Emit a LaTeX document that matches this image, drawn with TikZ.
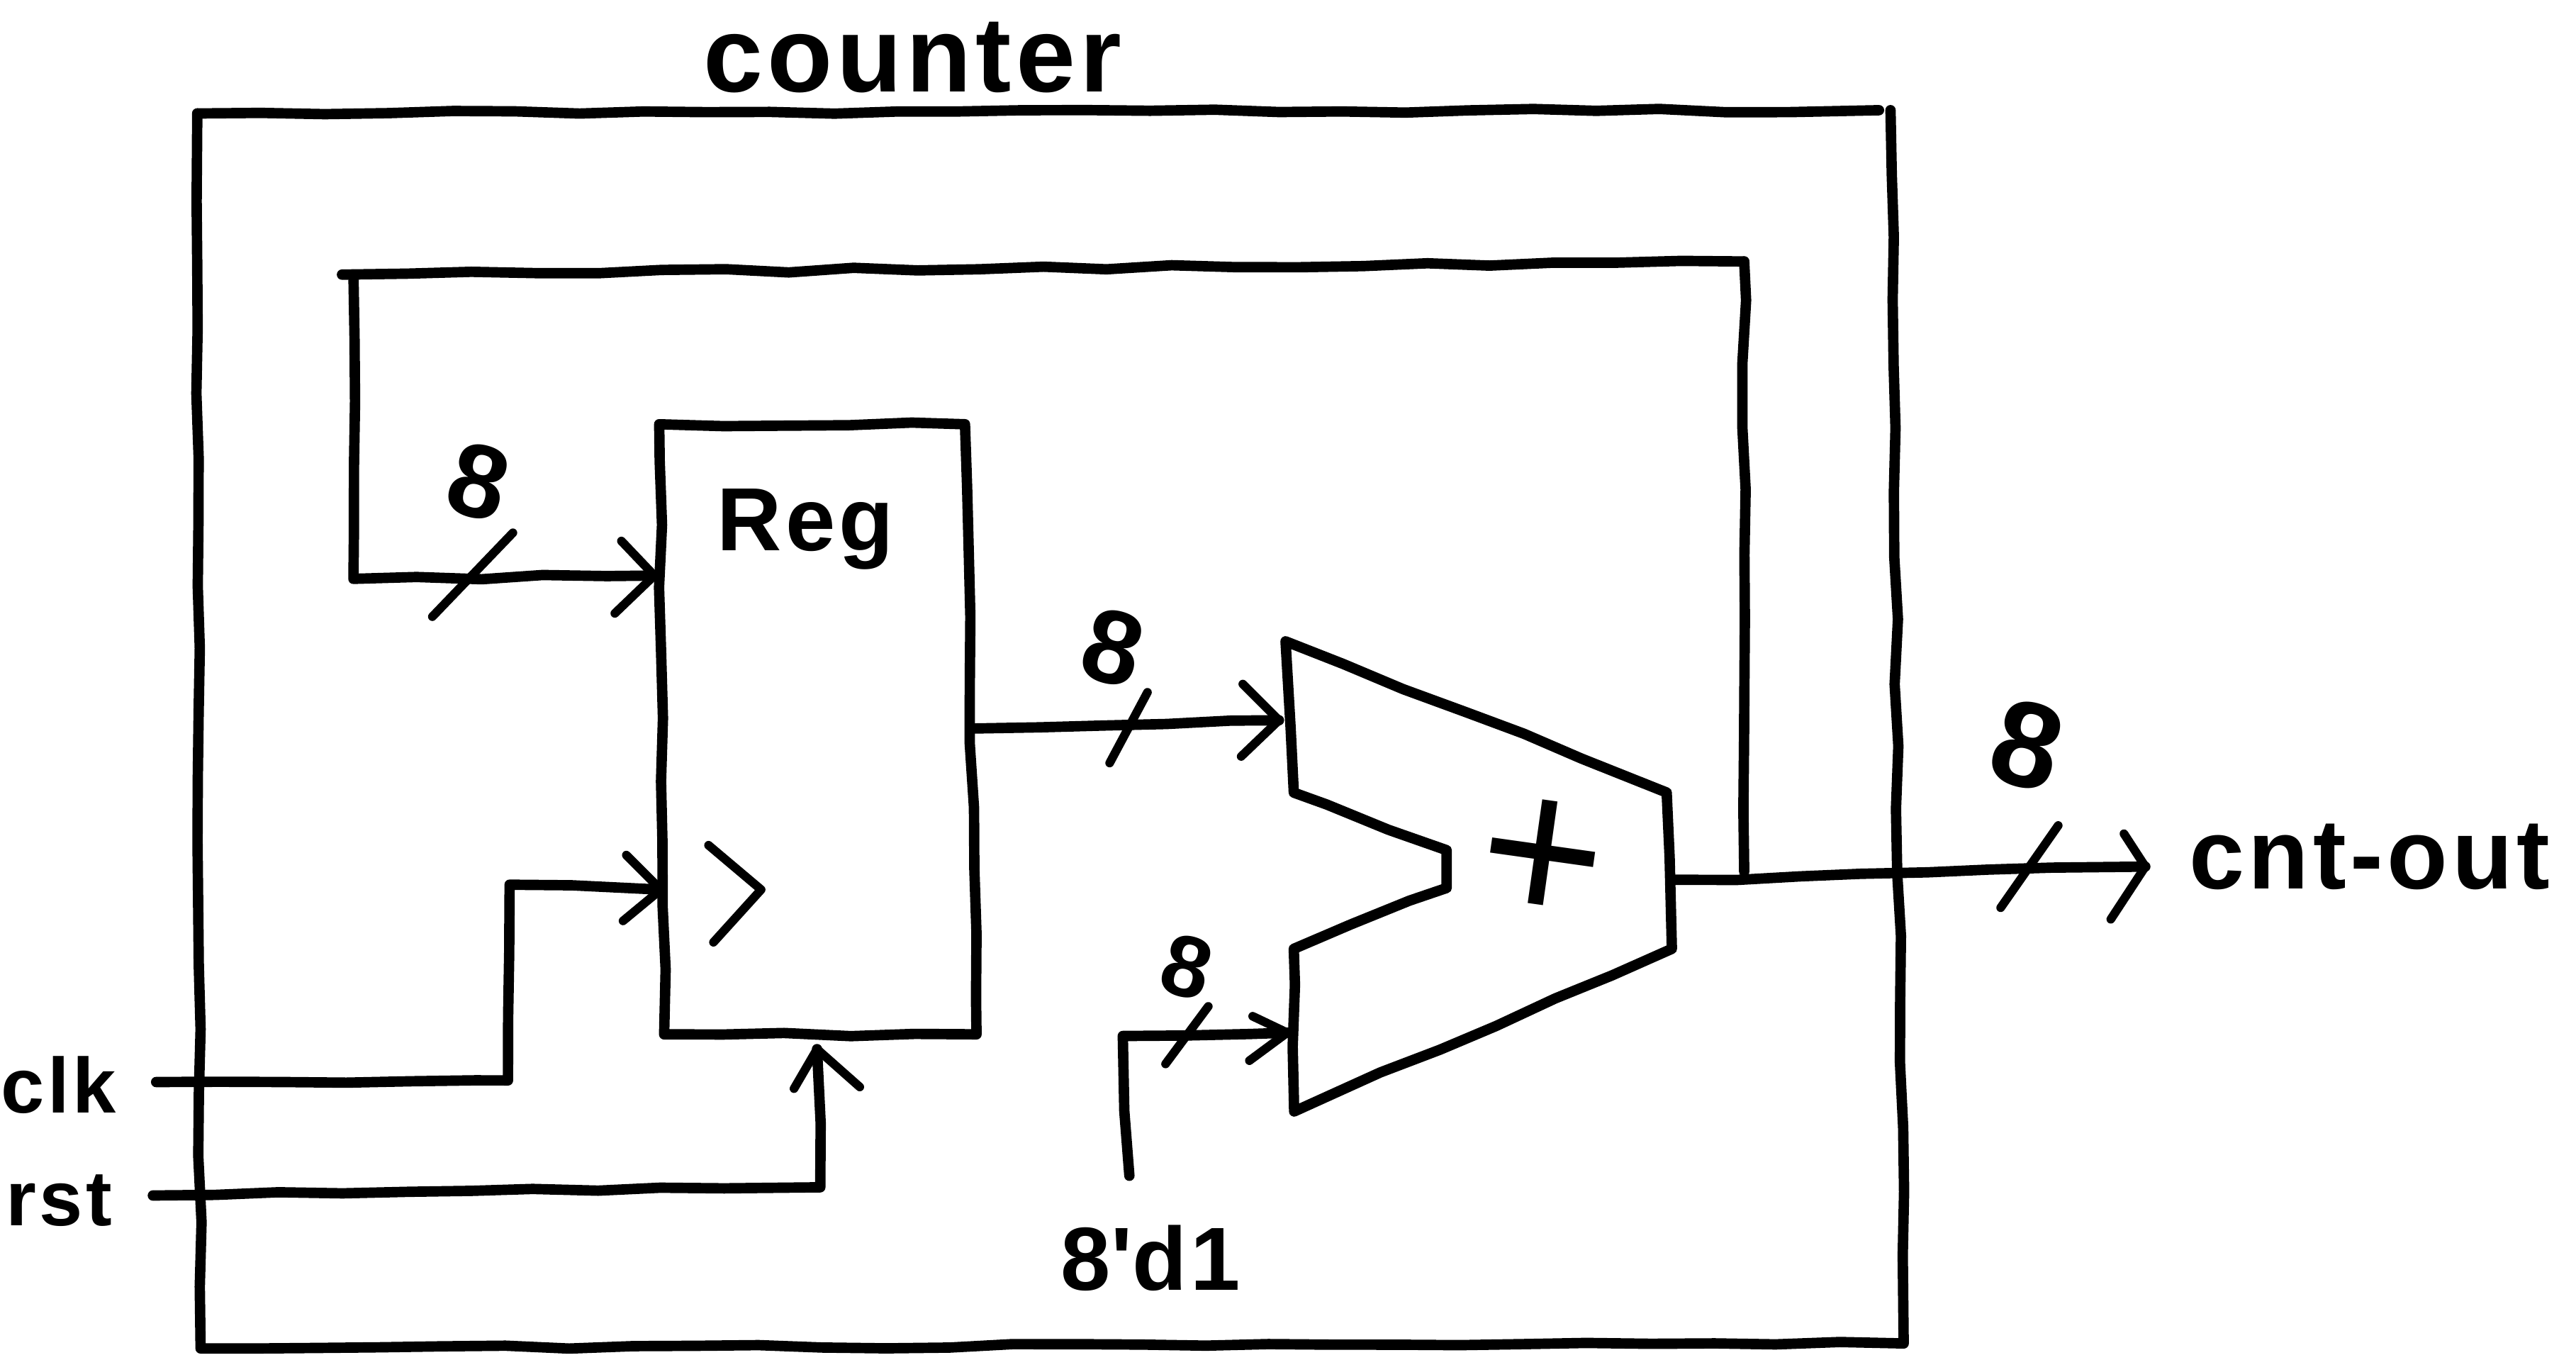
\documentclass[tikz,border=0pt]{standalone}
\usepackage{fontspec}
\setmainfont{Liberation Sans}[LetterSpace=4]
\newfontfamily\digitfont{Liberation Sans}
\usetikzlibrary{decorations.pathmorphing}
\tikzset{
  x=0.01cm,y=-0.01cm,
  wire/.style={draw=black,line width=1.8pt,line cap=round,line join=round,
    decorate,decoration={random steps,segment length=11pt,amplitude=0.35pt}},
  plain/.style={draw=black,line width=1.5pt,line cap=round,line join=round},
  hand/.style={font=\fontsize{13.5}{13.5}\selectfont\bfseries,inner sep=0pt,text=black},
  big/.style={font=\fontsize{17.2}{17.2}\selectfont\bfseries,inner sep=0pt,text=black},
  tag/.style={font=\digitfont\fontsize{18}{18}\selectfont\bfseries,inner sep=0pt,text=black,rotate=-15},
}
\begin{document}
\begin{tikzpicture}
\pgfmathsetseed{7}
\useasboundingbox (0,0) rectangle (1567,827);
% outer box
\coordinate (o1) at (120,69); \coordinate (o2) at (1143,67);
\coordinate (o3) at (1150,67); \coordinate (o4) at (1158,817);
\coordinate (o5) at (122,820);
\draw[wire] (o1) -- (o2);
\draw[wire] (o3) -- (o4) -- (o5) -- (o1);
% register
\node[hand,font=\fontsize{15.5}{15.5}\selectfont\bfseries] (regtext) at (490,322) {Reg};
\coordinate (r1) at (401,258); \coordinate (r2) at (587,258);
\coordinate (r3) at (594,629); \coordinate (r4) at (404,629);
\draw[wire] (r1) -- (r2) -- (r3) -- (r4) -- cycle;
% clock mark
\coordinate (c1) at (431,514); \coordinate (c2) at (463,541); \coordinate (c3) at (434,573);
\draw[plain] (c1) -- (c2) -- (c3);
% adder
\coordinate (a1) at (782,390); \coordinate (a2) at (1014,482);
\coordinate (a3) at (1017,577); \coordinate (a4) at (787,676);
\coordinate (a5) at (787,577); \coordinate (a6) at (880,540);
\coordinate (a7) at (880,517); \coordinate (a8) at (787,482);
\draw[wire] (a1) -- (a2) -- (a3) -- (a4) -- (a5) -- (a6) -- (a7) -- (a8) -- cycle;
\node[font=\digitfont\fontsize{37}{37}\selectfont,inner sep=0pt,rotate=-8] (plus) at (938,524) {+};
% feedback
\coordinate (f1) at (1061,530); \coordinate (f2) at (1061,159);
\coordinate (f3) at (208,167); \coordinate (f4) at (215,167);
\coordinate (f5) at (215,352); \coordinate (f6) at (398,350);
\draw[wire] (f2) -- (f3);
\draw[wire] (f1) -- (f2);
\draw[wire] (f4) -- (f5) -- (f6);
\draw[plain] (378,329) -- (f6) -- (374,373);
\draw[plain] (263,375) -- (312,324);
\node[tag] (n1) at (291,293) {8};
% reg to adder
\coordinate (m1) at (593,443); \coordinate (m2) at (778,438);
\draw[wire] (m1) -- (m2);
\draw[plain] (756,416) -- (m2) -- (755,460);
\draw[plain] (675,464) -- (698,421);
\node[tag] (n2) at (677,394) {8};
% output
\coordinate (u1) at (1017,535); \coordinate (u2) at (1305,527);
\draw[wire] (u1) -- (u2);
\draw[plain] (1292,507) -- (u2) -- (1284,559);
\draw[plain] (1217,552) -- (1252,502);
\node[tag,font=\digitfont\fontsize{21}{21}\selectfont\bfseries] (n3) at (1233,453) {8};
\node[big,anchor=west] (cnt) at (1331,521) {cnt-out};
% constant
\coordinate (k1) at (687,715); \coordinate (k2) at (683,630); \coordinate (k3) at (783,628);
\draw[wire] (k1) -- (k2) -- (k3);
\draw[plain] (762,618) -- (k3) -- (760,645);
\draw[plain] (709,647) -- (735,612);
\node[tag,font=\digitfont\fontsize{15}{15}\selectfont\bfseries] (n4) at (722,588) {8};
\node[big,font=\fontsize{15.5}{15.5}\selectfont\bfseries] (dl) at (700,765) {8\textquotesingle d1};
% clk
\coordinate (l1) at (95,658); \coordinate (l2) at (309,657);
\coordinate (l3) at (310,538); \coordinate (l4) at (402,541);
\draw[wire] (l1) -- (l2) -- (l3) -- (l4);
\draw[plain] (381,520) -- (l4) -- (379,560);
\node[hand,anchor=west] (clk) at (0,660) {clk};
% rst
\coordinate (s1) at (93,727); \coordinate (s2) at (499,722); \coordinate (s3) at (497,638);
\draw[wire] (s1) -- (s2) -- (s3);
\draw[plain] (483,662) -- (s3) -- (523,661);
\node[hand,anchor=west] (rst) at (3,730) {rst};
% title
\node[big,font=\fontsize{18.5}{18.5}\selectfont\bfseries] (title) at (555,35) {counter};
\end{tikzpicture}
\end{document}
